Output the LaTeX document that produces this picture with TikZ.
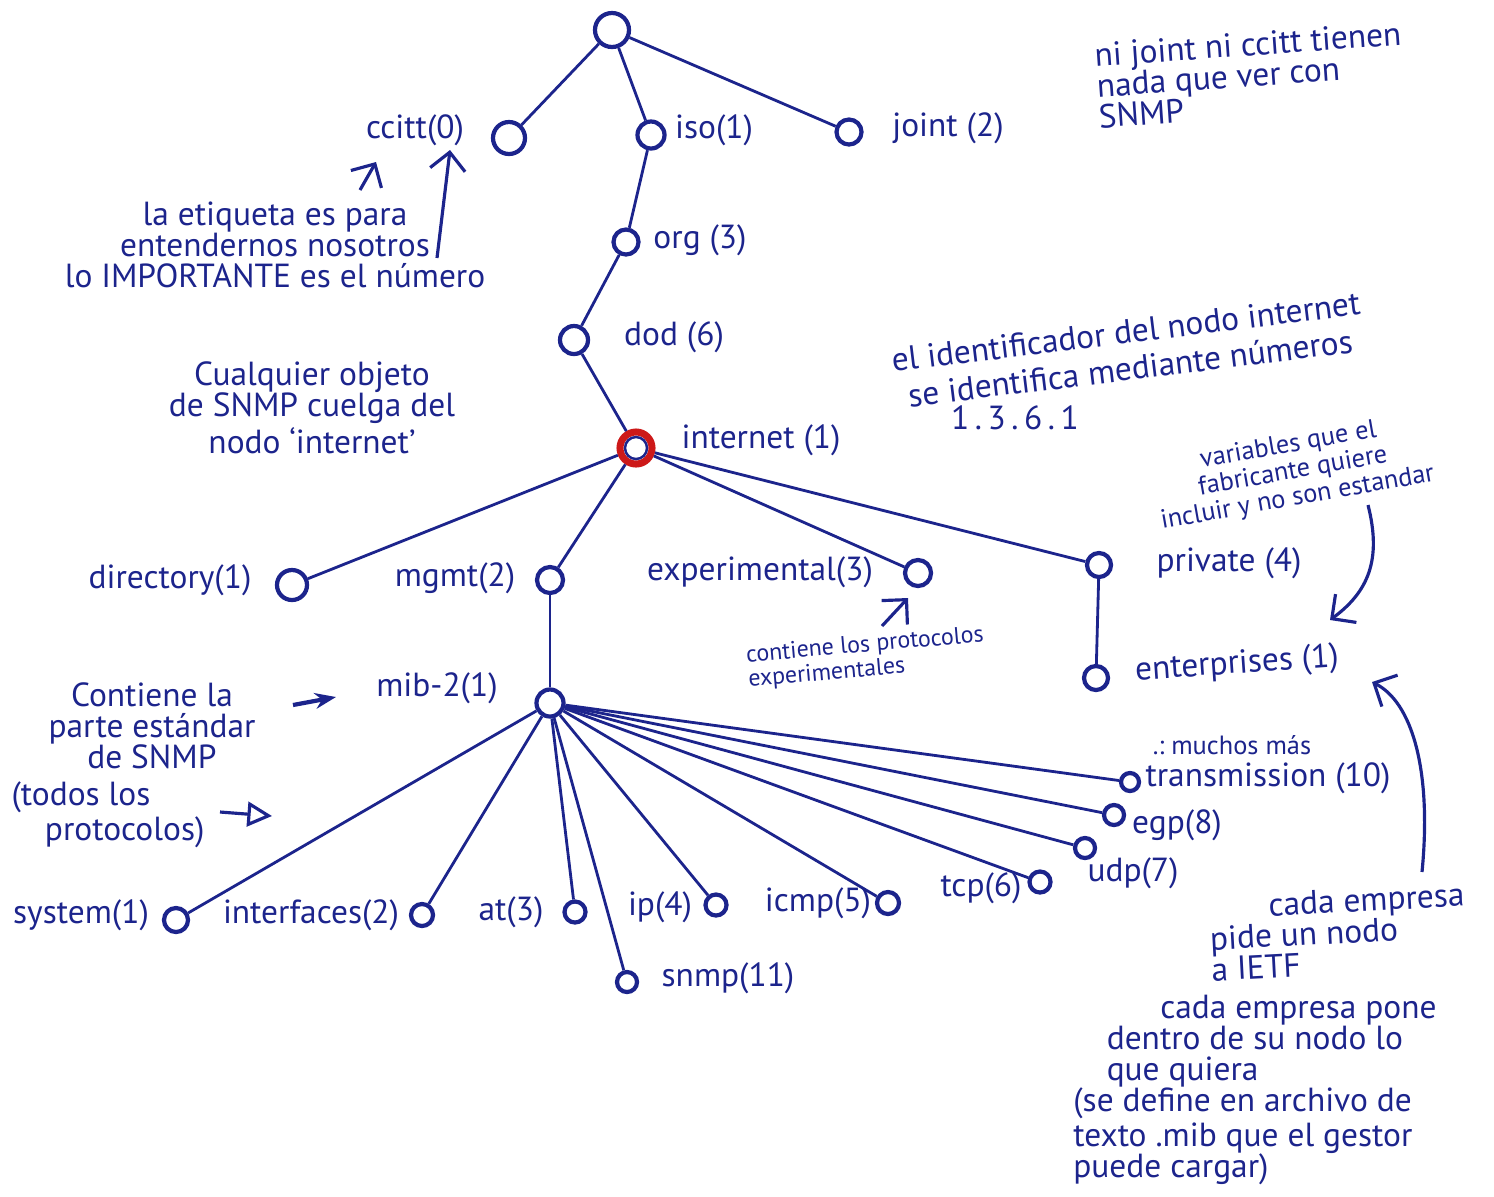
\documentclass[tikz,border=0pt]{standalone}
\usepackage{fontspec}
\setmainfont{PT Sans}
\usetikzlibrary{arrows.meta}
\definecolor{ink}{RGB}{28,36,140}
\definecolor{mark}{RGB}{205,25,25}
\tikzset{
  oid/.style={circle,draw=ink,line width=1.2pt,inner sep=0pt},
  lbl/.style={text=ink,font=\fontsize{9.5}{11}\selectfont,inner sep=1pt},
  note/.style={text=ink,font=\fontsize{9.5}{8.8}\selectfont,align=center,inner sep=1pt},
  smallnote/.style={note,font=\fontsize{7.5}{7.6}\selectfont},
  branch/.style={draw=ink,line width=0.8pt},
  hint/.style={draw=ink,line width=0.9pt,-{Straight Barb[length=5pt]}}
}
\begin{document}
\begin{tikzpicture}[x=0.01cm,y=-0.01cm]
\useasboundingbox (0,0) rectangle (1494,1196);
% tree nodes
\foreach \n/\x/\y/\s in {root/612/30/0.34, ccitt/509/138/0.32, iso/651/135/0.27,
    joint/849/132/0.25, org/626/242/0.25, dod/574/340/0.28,
    directory/292/585/0.30, mgmt/550/580/0.26, experimental/918/573/0.26,
    private/1099/565/0.24, enterprises/1096/678/0.24, mib2/550/703/0.27,
    system/176/920/0.24, interfaces/422/915/0.22, at/575/912/0.21,
    ip/716/905/0.21, icmp/888/903/0.22, tcp/1040/882/0.21, udp/1085/848/0.20,
    egp/1114/815/0.20, transmission/1130/782/0.18, snmp/627/982/0.20} {
  \node[oid,minimum size=\s cm] (\n) at (\x,\y) {};
}
\node[oid,draw=mark,line width=2pt,minimum size=0.32cm] (internet) at (636,448) {};
\draw[ink,line width=0.7pt] (internet.center) circle (0.11cm);
% branches
\foreach \a/\b in {root/ccitt, root/iso, root/joint, iso/org, org/dod,
    dod/internet, internet/directory, internet/mgmt, internet/experimental,
    internet/private, private/enterprises, mgmt/mib2,
    mib2/system, mib2/interfaces, mib2/at, mib2/snmp, mib2/ip, mib2/icmp,
    mib2/tcp, mib2/udp, mib2/egp, mib2/transmission} {
  \draw[branch] (\a) -- (\b);
}
% labels
\foreach \n/\x/\y/\t in {ccitt/415/130/ccitt(0), iso/714/130/iso(1),
    joint/948/128/joint (2), org/700/240/org (3), dod/674/337/dod (6),
    internet/761/440/internet (1), directory/170/580/directory(1),
    mgmt/455/578/mgmt(2), experimental/760/572/experimental(3),
    private/1229/563/private (4), mib2/437/688/mib-2(1),
    system/81/915/system(1), interfaces/311/915/interfaces(2),
    at/511/912/at(3), ip/660/907/ip(4), icmp/818/903/icmp(5),
    tcp/981/888/tcp(6), udp/1133/873/udp(7), egp/1177/825/egp(8),
    transmission/1268/778/transmission (10), snmp/728/978/snmp(11)} {
  \node[lbl] (t-\n) at (\x,\y) {\t};
}
\node[lbl,rotate=4] (t-enterprises) at (1237,665) {enterprises (1)};
% notes
\node[note,rotate=4,align=left] (n-joint) at (1250,75)
  {ni joint ni ccitt tienen\\nada que ver con\\SNMP};
\node[note] (n-label) at (275,245)
  {la etiqueta es para\\entendernos nosotros\\lo IMPORTANTE es el número};
\coordinate (a1s) at (360,190);
\coordinate (a1e) at (376,162);
\coordinate (a2s) at (437,258);
\coordinate (a2e) at (450,150);
\draw[hint] (a1s) -- (a1e);
\draw[hint] (a2s) -- (a2e);
\node[note] (n-any) at (312,408)
  {Cualquier objeto\\de SNMP cuelga del\\nodo `internet'};
\node[note,rotate=7,font=\fontsize{9.5}{10.5}\selectfont] (n-ident) at (1128,350)
  {el identificador del nodo internet\\se identifica mediante números};
\node[note] (n-num) at (1015,418) {1\,.\,3\,.\,6\,.\,1};
\node[smallnote,rotate=10] (n-vars) at (1293,472)
  {variables que el\\fabricante quiere\\incluir y no son estandar};
\coordinate (a3s) at (1368,505);
\coordinate (a3e) at (1330,620);
\draw[hint] (a3s) .. controls (1382,560) and (1368,592) .. (a3e);
\node[smallnote,rotate=5,font=\fontsize{6.8}{7}\selectfont,align=left] (n-exp) at (866,658)
  {contiene los protocolos\\experimentales};
\coordinate (a4s) at (882,626);
\coordinate (a4e) at (908,598);
\draw[hint] (a4s) -- (a4e);
\node[note] (n-std) at (152,726) {Contiene la\\parte estándar\\de SNMP};
\coordinate (a5s) at (293,705);
\coordinate (a5e) at (336,697);
\draw[draw=ink,line width=1.2pt,-{Stealth[length=6pt]}] (a5s) -- (a5e);
\node[note,align=left] (n-all) at (108,815) {(todos los\\\hspace{1em}protocolos)};
\coordinate (a6s) at (220,812);
\coordinate (a6e) at (272,816);
\draw[draw=ink,line width=0.9pt,-{Triangle[open,length=7pt,width=7pt]}] (a6s) -- (a6e);
\node[smallnote] (n-more) at (1232,745) {.:\ muchos más};
\node[note,align=left,rotate=3] (n-ietf) at (1338,932)
  {\hspace{1.8em}cada empresa\\pide un nodo\\a IETF};
\coordinate (a7s) at (1422,872);
\coordinate (a7e) at (1372,682);
\draw[hint] (a7s) .. controls (1432,770) and (1412,702) .. (a7e);
\node[note,align=left] (n-mib) at (1255,1090)
  {\hspace{2.6em}cada empresa pone\\\hspace{1em}dentro de su nodo lo\\\hspace{1em}que quiera\\(se define en archivo de\\texto .mib que el gestor\\puede cargar)};
\end{tikzpicture}
\end{document}
